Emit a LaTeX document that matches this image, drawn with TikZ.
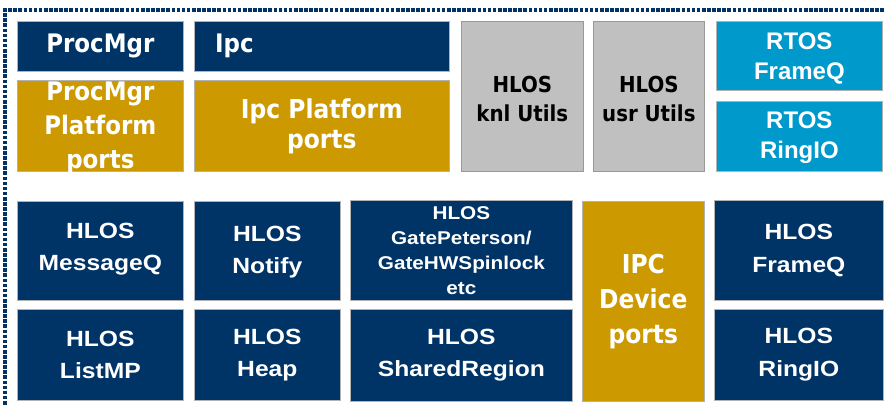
\documentclass[tikz,border=0pt]{standalone}
\usepackage{fontspec}
\newfontfamily\humfont{DejaVu Sans Condensed}
\newfontfamily\grofont{Liberation Sans}[FakeStretch=1.12]
\newfontfamily\arfont{Liberation Sans}
\definecolor{navy}{HTML}{003366}
\definecolor{gold}{HTML}{CC9900}
\definecolor{lgray}{HTML}{C0C0C0}
\definecolor{sky}{HTML}{0099CC}
\tikzset{
  blk/.style={draw=gray!60, line width=0.7pt, inner sep=0pt, anchor=north west},
  navyblk/.style={blk, fill=navy},
  goldblk/.style={blk, fill=gold},
  grayblk/.style={blk, fill=lgray, draw=gray!80},
  skyblk/.style={blk, fill=sky},
  lbl/.style={inner sep=0pt, align=center, text=white},
  frame/.style={draw=navy, line width=4.2pt, dash pattern=on 3.6pt off 1.5pt}
}
% box: name, style, x, y, width, height
\newcommand{\blkbox}[6]{\node[#2, minimum width=#5pt, minimum height=#6pt] (#1) at (#3,#4) {};}
\begin{document}
\begin{tikzpicture}[x=1pt,y=-1pt]
\useasboundingbox (0,0) rectangle (884,406);
% dotted frame along the top and the left side
\coordinate (fr) at (884,10);
\coordinate (fc) at (5,10);
\coordinate (fb) at (5,406);
\draw[frame] (fr) -- (fc) -- (fb);

% upper group
\blkbox{pm}{navyblk}{17}{21}{166}{50}
\blkbox{pmp}{goldblk}{17}{80}{166}{91}
\blkbox{ipc}{navyblk}{194}{21}{255}{50}
\blkbox{ipcp}{goldblk}{194}{80}{255}{91}
\blkbox{knl}{grayblk}{461}{21}{122}{150}
\blkbox{usr}{grayblk}{593}{21}{111}{150}
\blkbox{rfq}{skyblk}{716}{21}{166}{69}
\blkbox{rrio}{skyblk}{716}{101}{166}{70}

% lower group
\blkbox{msgq}{navyblk}{17}{201}{166}{99}
\blkbox{notify}{navyblk}{194}{201}{146}{99}
\blkbox{gate}{navyblk}{350}{200}{222}{100}
\blkbox{listmp}{navyblk}{17}{309}{166}{91}
\blkbox{heap}{navyblk}{194}{309}{146}{91}
\blkbox{shreg}{navyblk}{350}{309}{222}{92}
\blkbox{dev}{goldblk}{582}{201}{122}{200}
\blkbox{hfq}{navyblk}{714}{200}{169}{100}
\blkbox{hrio}{navyblk}{714}{309}{169}{91}

% labels
\node[lbl, font=\humfont\bfseries\fontsize{25.5}{34}\selectfont] at (pm.center) {ProcMgr};
\node[lbl, font=\humfont\bfseries\fontsize{25.5}{34}\selectfont] at ([yshift=-2pt]pmp.center) {ProcMgr\\Platform\\ports};
\node[lbl, anchor=west, font=\humfont\bfseries\fontsize{25.5}{34}\selectfont] at ([xshift=21pt]ipc.west) {Ipc};
\node[lbl, font=\humfont\bfseries\fontsize{26}{30}\selectfont] at (ipcp.center) {Ipc Platform\\ports};
\node[lbl, text=black, font=\humfont\bfseries\fontsize{22}{29}\selectfont] at ([yshift=-3pt]knl.center) {HLOS\\knl Utils};
\node[lbl, text=black, font=\humfont\bfseries\fontsize{22}{29}\selectfont] at ([yshift=-3pt]usr.center) {HLOS\\usr Utils};
\node[lbl, font=\arfont\bfseries\fontsize{24}{30}\selectfont] at ([yshift=-3pt]rfq.center) {RTOS\\FrameQ};
\node[lbl, font=\arfont\bfseries\fontsize{24}{30}\selectfont] at ([yshift=-1pt]rrio.center) {RTOS\\RingIO};

\node[lbl, font=\grofont\bfseries\fontsize{22}{32}\selectfont] at ([yshift=2pt]msgq.center) {HLOS\\MessageQ};
\node[lbl, font=\grofont\bfseries\fontsize{22}{32}\selectfont] at ([yshift=-1pt]notify.center) {HLOS\\Notify};
\node[lbl, font=\grofont\bfseries\fontsize{18.5}{25}\selectfont] at (gate.center) {HLOS\\GatePeterson/\\GateHWSpinlock\\etc};
\node[lbl, font=\grofont\bfseries\fontsize{22}{32}\selectfont] at (listmp.center) {HLOS\\ListMP};
\node[lbl, font=\grofont\bfseries\fontsize{22}{32}\selectfont] at (heap.center) {HLOS\\Heap};
\node[lbl, font=\grofont\bfseries\fontsize{22}{32}\selectfont] at (shreg.center) {HLOS\\SharedRegion};
\node[lbl, font=\humfont\bfseries\fontsize{26}{35}\selectfont] at (dev.center) {IPC\\Device\\ports};
\node[lbl, font=\grofont\bfseries\fontsize{22}{33}\selectfont] at (hfq.center) {HLOS\\FrameQ};
\node[lbl, font=\grofont\bfseries\fontsize{22}{33}\selectfont] at (hrio.center) {HLOS\\RingIO};
\end{tikzpicture}
\end{document}
